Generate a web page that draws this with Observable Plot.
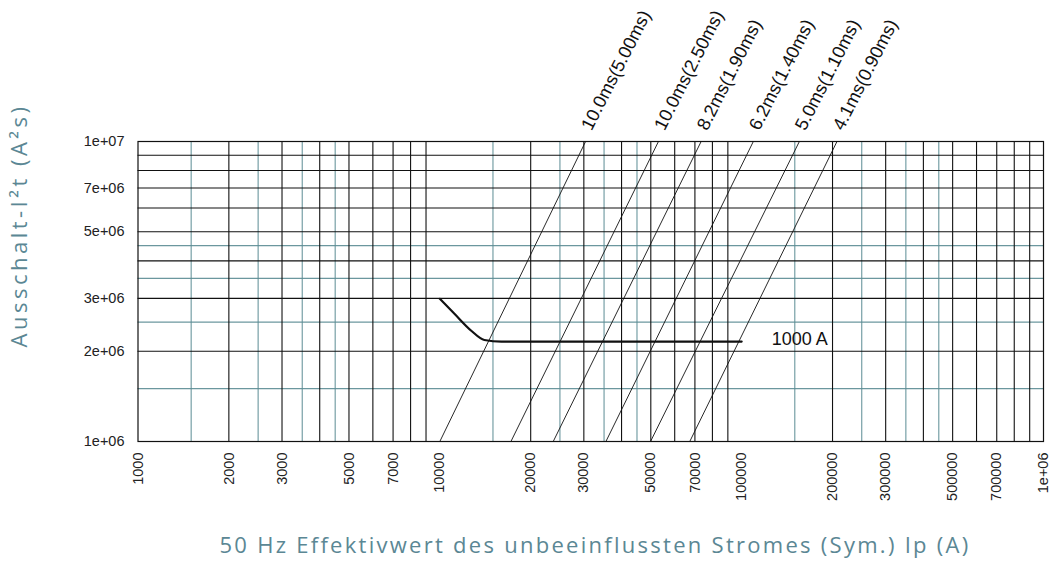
<!DOCTYPE html>
<html>
<head>
<meta charset="utf-8">
<script src="https://cdn.jsdelivr.net/npm/d3@7"></script>
<script src="https://cdn.jsdelivr.net/npm/@observablehq/plot@0.6"></script>
<style>
  html, body { margin: 0; padding: 0; background: #fff; }
  #chart { width: 1051px; height: 574px; }
</style>
</head>
<body>
<div id="chart"></div>
<script>
// ---- Data ----
const xTickValues = [1000, 2000, 3000, 5000, 7000, 10000, 20000, 30000, 50000, 70000, 100000, 200000, 300000, 500000, 700000, 1000000];
const xTickLabels = ["1000", "2000", "3000", "5000", "7000", "10000", "20000", "30000", "50000", "70000", "100000", "200000", "300000", "500000", "700000", "1e+06"];
const yTickValues = [1e6, 2e6, 3e6, 5e6, 7e6, 1e7];
const yTickLabels = ["1e+06", "2e+06", "3e+06", "5e+06", "7e+06", "1e+07"];

// grid lines
const xGridBlack = [2000, 3000, 4000, 5000, 6000, 7000, 8000, 9000,
                    20000, 30000, 40000, 50000, 60000, 70000, 80000, 90000,
                    200000, 300000, 400000, 500000, 600000, 700000, 800000, 900000];
const xGridTeal = [1500, 2500, 3500, 4500, 15000, 25000, 35000, 45000, 150000, 250000, 350000, 450000];
const yGridBlack = [2e6, 3e6, 4e6, 5e6, 6e6, 7e6, 8e6, 9e6];
const yGridTeal = [1.5e6, 2.5e6, 3.5e6, 4.5e6];

// let-through lines (I²t vs current)
const lineLabels = ["10.0ms(5.00ms)", "10.0ms(2.50ms)", "8.2ms(1.90ms)", "6.2ms(1.40ms)", "5.0ms(1.10ms)", "4.1ms(0.90ms)"];
const lineBottomI = [10000, 17200, 23750, 35500, 49900, 67300];
const lineTopI = [30400, 53000, 73400, 109300, 155300, 206900];
const lineBottomI2t = [1e6, 1e6, 1e6, 1e6, 1e6, 1e6];
const lineTopI2t = [1e7, 1e7, 1e7, 1e7, 1e7, 1e7];

// 1000 A fuse curve
const curveI = [10000, 11160, 12710, 14040, 16000, 100000];
const curveI2t = [2.99e6, 2.67e6, 2.34e6, 2.18e6, 2.154e6, 2.154e6];
const curveLabel = "1000 A";

const xTitle = "50 Hz Effektivwert des unbeeinflussten Stromes (Sym.) Ip (A)";
const yTitle = "Ausschalt-I²t (A²s)";

// ---- Build tables ----
const diag = lineLabels.map((label, i) => ({label, x1: lineBottomI[i], y1: lineBottomI2t[i], x2: lineTopI[i], y2: lineTopI2t[i]}));
const curve = curveI.map((x, i) => ({x, y: curveI2t[i]}));
const xTicks = xTickValues.map((v, i) => ({v, t: xTickLabels[i]}));
const yTicks = yTickValues.map((v, i) => ({v, t: yTickLabels[i]}));

const teal = "#5b8c94";
const titleColor = "#5b8794";
const titleFont = "'Open Sans', Lato, sans-serif";

const svg = Plot.plot({
  width: 1051,
  height: 574,
  marginLeft: 137.5,
  marginRight: 8,
  marginTop: 141,
  marginBottom: 133,
  style: {fontFamily: "'Liberation Sans', Arial, sans-serif", fontSize: "14.5px", background: "#fff", color: "#222"},
  x: {type: "log", domain: [1000, 1e6], axis: null},
  y: {type: "log", domain: [1e6, 1e7], axis: null},
  marks: [
    Plot.ruleX(xGridTeal, {stroke: teal, strokeWidth: 1}),
    Plot.ruleY(yGridTeal, {stroke: teal, strokeWidth: 1.2, strokeOpacity: 0.9}),
    Plot.ruleX(xGridBlack, {stroke: "#111", strokeWidth: 1.1}),
    Plot.ruleY(yGridBlack, {stroke: "#111", strokeWidth: 1.1}),
    Plot.frame({stroke: "#111", strokeWidth: 1.2}),
    Plot.link(diag, {x1: "x1", y1: "y1", x2: "x2", y2: "y2", stroke: "#111", strokeWidth: 0.9}),
    Plot.line(curve, {x: "x", y: "y", curve: "monotone-x", stroke: "#111", strokeWidth: 2.2}),
    // tick labels
    Plot.text(xTicks, {x: "v", text: "t", frameAnchor: "bottom", rotate: -90, textAnchor: "end", lineAnchor: "middle", dy: 11, fontSize: 14.5, fill: "#222"}),
    Plot.text(yTicks, {y: "v", text: "t", frameAnchor: "left", textAnchor: "end", lineAnchor: "middle", dx: -13.5, fontSize: 14.5, fill: "#222"}),
    // line labels
    Plot.text(diag, {x: "x2", y: "y2", text: "label", rotate: -63, textAnchor: "start", lineAnchor: "bottom", dx: 6, dy: -10, fontSize: 18.2, fill: "#111"}),
    Plot.text([curveLabel], {x: () => curveI[curveI.length - 1], y: () => curveI2t[curveI2t.length - 1], text: d => d, textAnchor: "start", lineAnchor: "middle", dx: 30, dy: -2, fontSize: 18, fill: "#111"}),
    // titles (start-anchored; stretched below to the reference length)
    Plot.text([xTitle], {frameAnchor: "bottom-left", text: d => d, textAnchor: "start", dx: 81.5, dy: 104, lineAnchor: "middle", fontSize: 22, fontFamily: titleFont, fill: titleColor}),
    Plot.text([yTitle], {frameAnchor: "left", text: d => d, rotate: -90, textAnchor: "start", dx: -118.5, dy: 56, lineAnchor: "middle", fontSize: 22, fontFamily: titleFont, fill: titleColor})
  ]
});

document.getElementById("chart").appendChild(svg);

// stretch titles to the reference length with letter spacing
function fit(el, target) {
  const len = el.getComputedTextLength();
  const n = el.textContent.length;
  if (len < target && n > 1) {
    el.style.letterSpacing = ((target - len) / n) + "px";
  } else if (len > target) {
    el.style.letterSpacing = ((target - len) / n) + "px";
  }
}
d3.select(svg).selectAll("text").each(function() {
  if (this.textContent === xTitle) fit(this, 751);
  if (this.textContent === yTitle) fit(this, 244);
});
</script>
</body>
</html>
